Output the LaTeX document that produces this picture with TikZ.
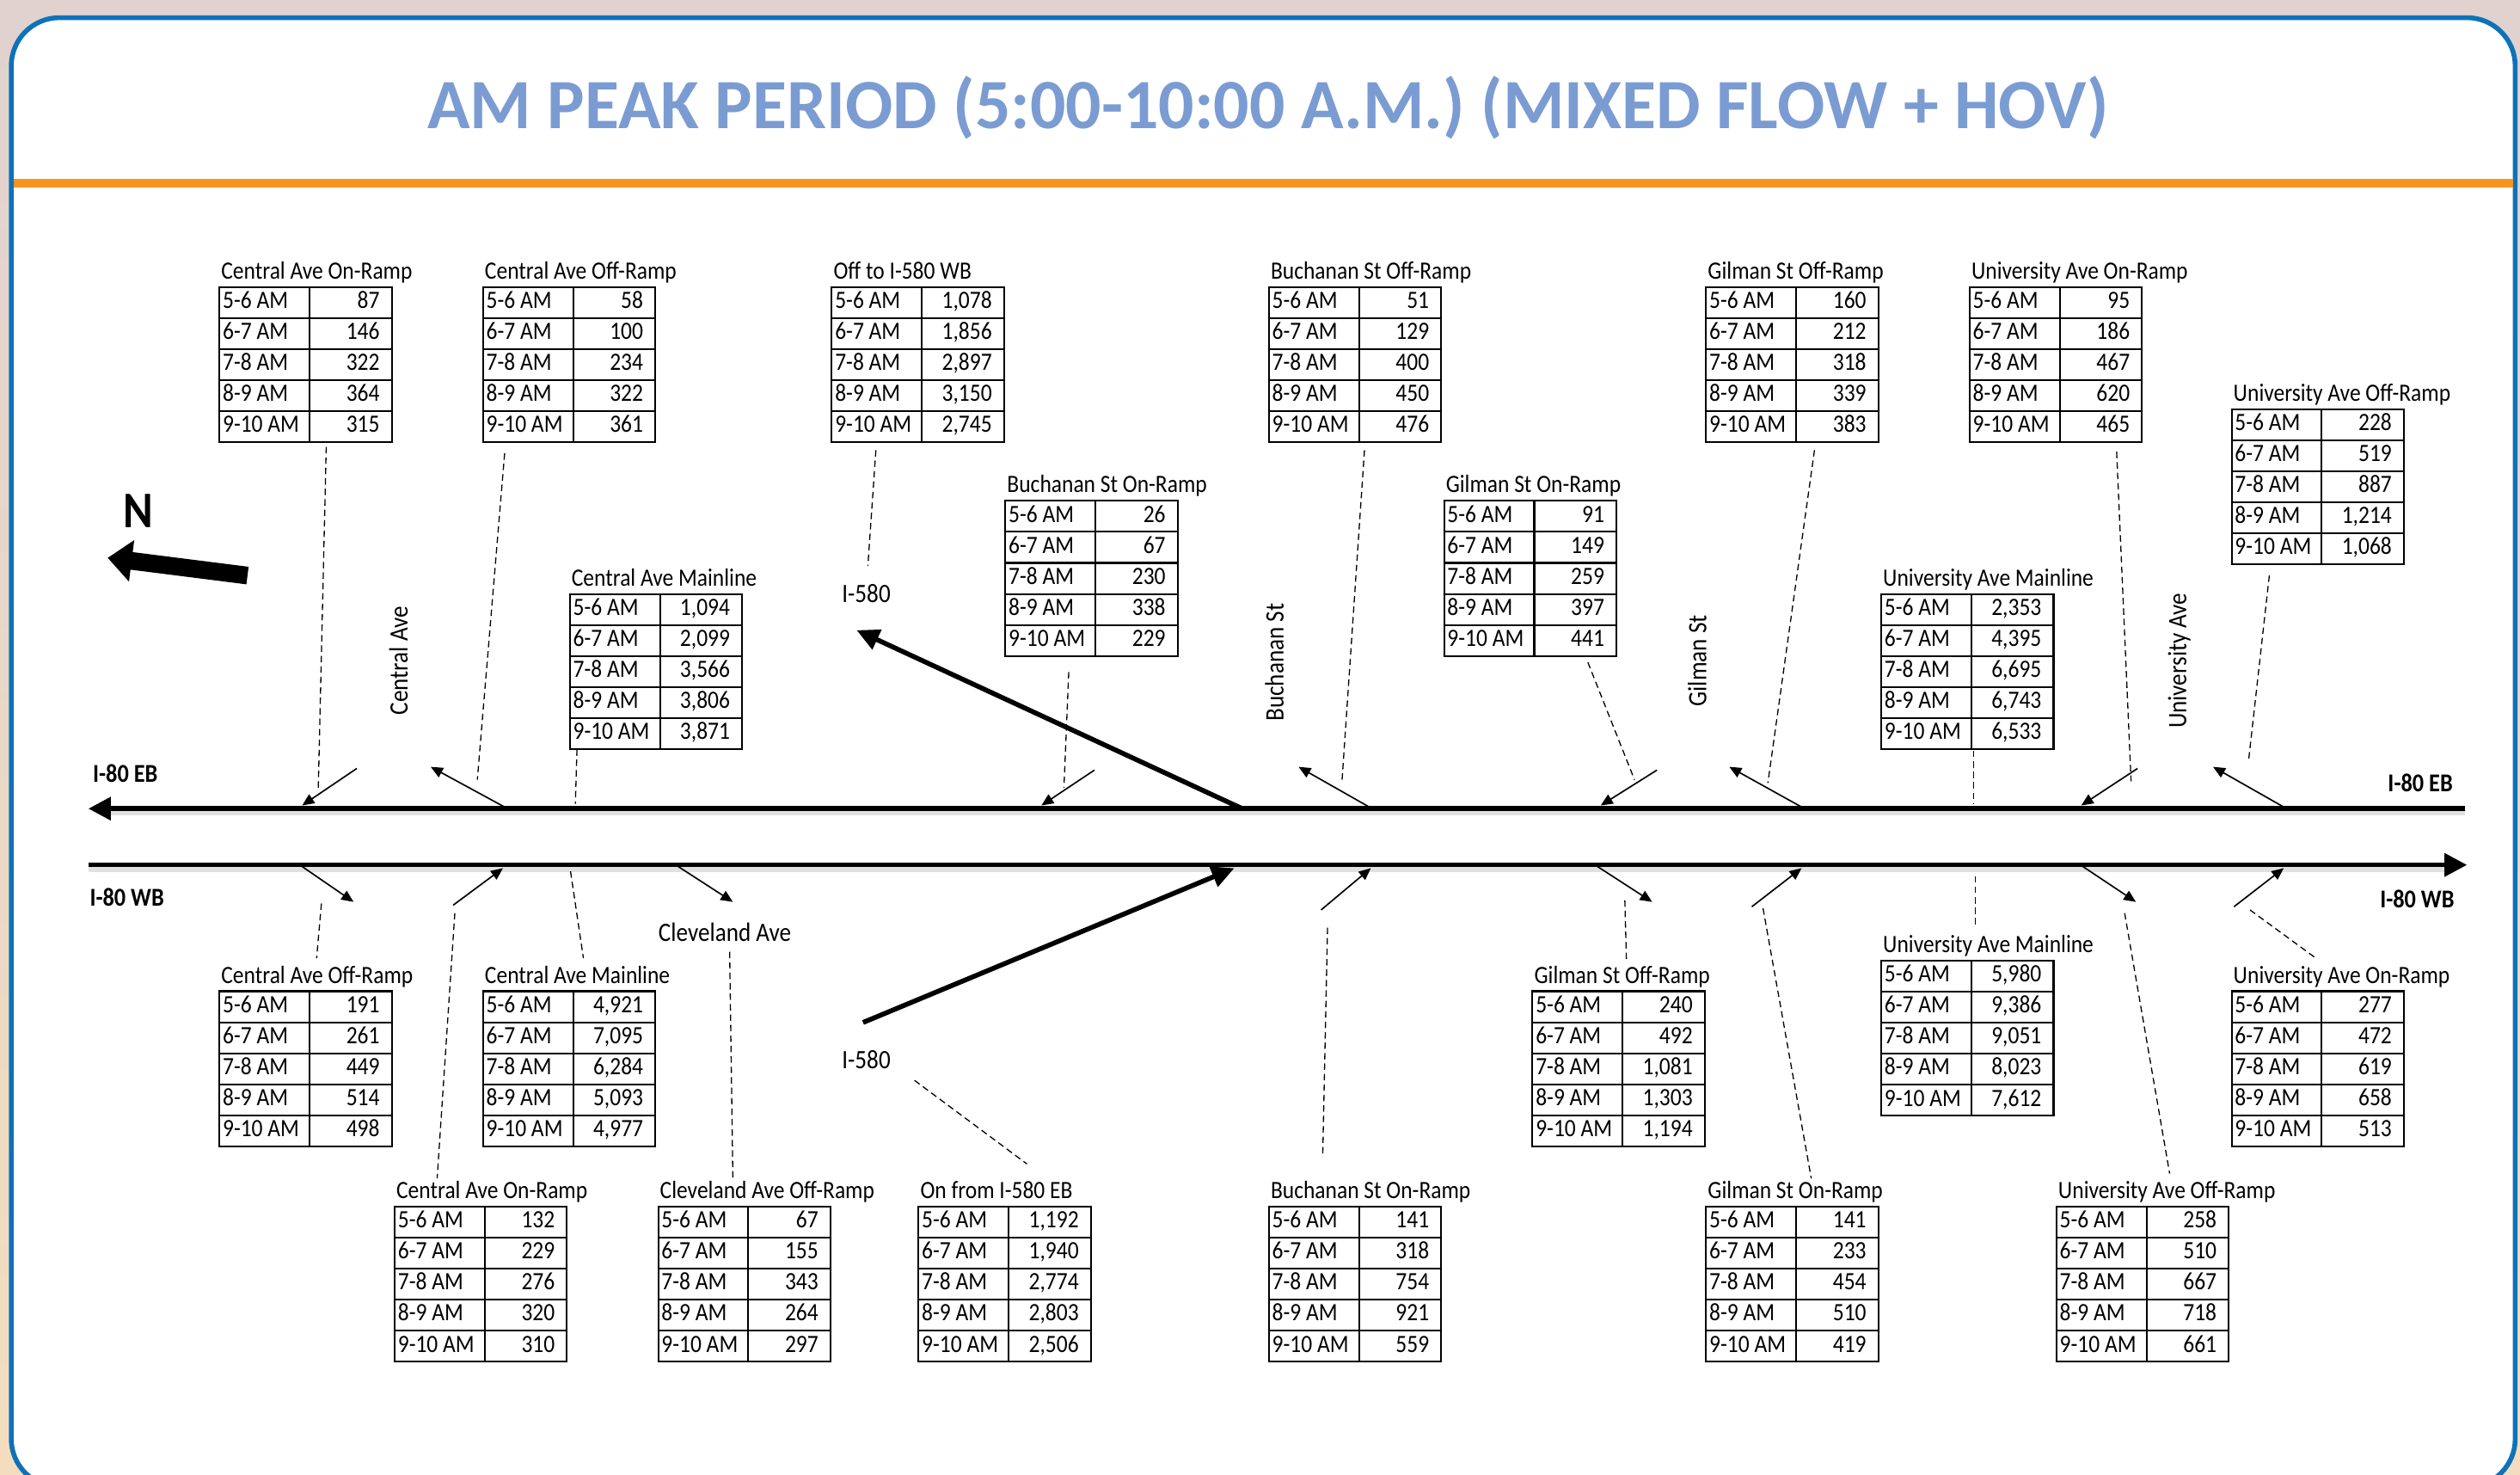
\documentclass[tikz,border=0pt]{standalone}
\usepackage{fontspec}
\setmainfont{Carlito}[FakeStretch=0.88]
\newfontfamily\titlefont{Carlito}
\usepackage{array}
\usepackage{graphicx}
\usetikzlibrary{arrows.meta}
\definecolor{bgtop}{HTML}{E0D2CE}
\definecolor{bgbot}{HTML}{F4DDBE}
\definecolor{frameblue}{HTML}{0E72B9}
\definecolor{barorange}{HTML}{F7941D}
\definecolor{titleblue}{HTML}{7B9CD2}
\setlength\arrayrulewidth{1.1pt}
\setlength\tabcolsep{0pt}
\newcommand\tb[5]{{\renewcommand\arraystretch{1.07}\begin{tabular}{|@{\hspace{1.5pt}}l@{}|>{\raggedleft\arraybackslash}p{43pt}@{\hspace{7pt}}|}\hline
\makebox[53.5pt][l]{5-6 AM}&#1\\\hline
\makebox[53.5pt][l]{6-7 AM}&#2\\\hline
\makebox[53.5pt][l]{7-8 AM}&#3\\\hline
\makebox[53.5pt][l]{8-9 AM}&#4\\\hline
\makebox[53.5pt][l]{9-10 AM}&#5\\\hline\end{tabular}}}
\newcommand\ftable[9]{\node[tbl] (#1) at (#2,#3) {\tb{#5}{#6}{#7}{#8}{#9}};\node[ttl] (#1-t) at (#1.north west) {#4};}
\begin{document}
\begin{tikzpicture}[x=1pt,y=-1pt,font=\fontsize{15.5}{17}\selectfont,
  tbl/.style={anchor=north west,inner sep=0pt,outer sep=0pt},
  ttl/.style={anchor=base west,inner sep=0pt,yshift=4.5pt,xshift=1.5pt},
  road/.style={line width=3pt},
  roadshadow/.style={line width=3.5pt,black!12},
  ramp/.style={line width=0.9pt,-{Triangle[length=7.5pt,width=6.5pt]}},
  lead/.style={line width=0.7pt,dash pattern=on 4pt off 2.5pt},
  bigarrow/.style={line width=3pt,-{Triangle[length=14pt,width=13pt]}},
  street/.style={font=\fontsize{16.5}{18}\selectfont,inner sep=0pt},
  hwy/.style={font=\bfseries\fontsize{16}{18}\selectfont,inner sep=0pt}]
\useasboundingbox (0,0) rectangle (1568,917);
\fill[top color=bgtop,bottom color=bgbot] (0,0) rectangle (1568,917);
\draw[frameblue,line width=3pt,fill=white,rounded corners=30pt] (7,11) rectangle (1565,925);
\fill[barorange] (8.5,111.5) rectangle (1563.5,116.5);
\node[text=titleblue,font=\titlefont\bfseries\fontsize{44}{44}\selectfont,anchor=base,inner sep=0pt] (title) at (789,80) {\resizebox{1046pt}{\height}{AM PEAK PERIOD (5:00-10:00 A.M.) (MIXED FLOW + HOV)}};

% tables
\ftable{uCOn}{136}{178}{Central Ave On-Ramp}{87}{146}{322}{364}{315}
\ftable{uCOff}{300}{178}{Central Ave Off-Ramp}{58}{100}{234}{322}{361}
\ftable{uFiveEighty}{517}{178}{Off to I-580 WB}{1,078}{1,856}{2,897}{3,150}{2,745}
\ftable{uBOff}{789}{178}{Buchanan St Off-Ramp}{51}{129}{400}{450}{476}
\ftable{uGOff}{1061}{178}{Gilman St Off-Ramp}{160}{212}{318}{339}{383}
\ftable{uUOn}{1225}{178}{University Ave On-Ramp}{95}{186}{467}{620}{465}
\ftable{uUOff}{1388}{254}{University Ave Off-Ramp}{228}{519}{887}{1,214}{1,068}
\ftable{uBOn}{625}{311}{Buchanan St On-Ramp}{26}{67}{230}{338}{229}
\ftable{uGOn}{898}{311}{Gilman St On-Ramp}{91}{149}{259}{397}{441}
\ftable{uCMain}{354}{369}{Central Ave Mainline}{1,094}{2,099}{3,566}{3,806}{3,871}
\ftable{uUMain}{1170}{369}{University Ave Mainline}{2,353}{4,395}{6,695}{6,743}{6,533}
\ftable{lCOff}{136}{616}{Central Ave Off-Ramp}{191}{261}{449}{514}{498}
\ftable{lCMain}{300}{616}{Central Ave Mainline}{4,921}{7,095}{6,284}{5,093}{4,977}
\ftable{lGOff}{953}{616}{Gilman St Off-Ramp}{240}{492}{1,081}{1,303}{1,194}
\ftable{lUOn}{1388}{616}{University Ave On-Ramp}{277}{472}{619}{658}{513}
\ftable{lUMain}{1170}{597}{University Ave Mainline}{5,980}{9,386}{9,051}{8,023}{7,612}
\ftable{lCOn}{245}{750}{Central Ave On-Ramp}{132}{229}{276}{320}{310}
\ftable{lClOff}{409}{750}{Cleveland Ave Off-Ramp}{67}{155}{343}{264}{297}
\ftable{lFiveEighty}{571}{750}{On from I-580 EB}{1,192}{1,940}{2,774}{2,803}{2,506}
\ftable{lBOn}{789}{750}{Buchanan St On-Ramp}{141}{318}{754}{921}{559}
\ftable{lGOn}{1061}{750}{Gilman St On-Ramp}{141}{233}{454}{510}{419}
\ftable{lUOff}{1279}{750}{University Ave Off-Ramp}{258}{510}{667}{718}{661}

% labels
\node[street,rotate=90] (sCentral) at (248,411) {Central Ave};
\node[street,rotate=90] (sBuch) at (793,412) {Buchanan St};
\node[street,rotate=90] (sGil) at (1056,411) {Gilman St};
\node[street,rotate=90] (sUniv) at (1356,411) {University Ave};
\node[street] (sClev) at (451,580) {Cleveland Ave};
\node[street] (sIup) at (539,369) {I-580};
\node[street] (sIdn) at (539,659) {I-580};
\node[hwy] (hEBl) at (78,481) {I-80 EB};
\node[hwy] (hEBr) at (1506,487) {I-80 EB};
\node[hwy] (hWBl) at (79,558) {I-80 WB};
\node[hwy] (hWBr) at (1504,559) {I-80 WB};

% north arrow
\node[font=\bfseries\fontsize{32}{32}\selectfont,inner sep=0pt] (north) at (86,318) {N};
\coordinate (nT) at (154,358);
\coordinate (nH) at (67,347);
\draw[line width=11pt,-{Triangle[length=15pt,width=25pt]}] (nT) -- (nH);

% roads
\coordinate (ebE) at (1534,503); \coordinate (ebW) at (55,503);
\coordinate (wbW) at (55,538); \coordinate (wbE) at (1535,538);
\draw[roadshadow] ([yshift=-2.5pt]ebE) -- ([yshift=-2.5pt,xshift=12pt]ebW);
\draw[roadshadow] ([yshift=-2.5pt]wbW) -- ([yshift=-2.5pt,xshift=-12pt]wbE);
\draw[road,-{Triangle[length=14pt,width=14pt]}] (ebE) -- (ebW);
\draw[road,-{Triangle[length=14pt,width=14pt]}] (wbW) -- (wbE);

% I-580 connectors
\coordinate (jEB) at (773,503); \coordinate (jUp) at (533,392);
\coordinate (jDn) at (537,636); \coordinate (jWB) at (768,540);
\draw[bigarrow] (jEB) -- (jUp);
\draw[bigarrow] (jDn) -- (jWB);

% ramps on EB
\foreach \a/\b/\c/\d [count=\i] in {222/478/188/501, 314/502/268/477, 681/479/648/501, 852/502/808/477, 1031/479/996/501, 1121/502/1076/477, 1330/478/1295/501, 1421/502/1377/477}
 { \coordinate (re\i a) at (\a,\b); \coordinate (re\i b) at (\c,\d); \draw[ramp] (re\i a) -- (re\i b); }
% ramps on WB
\foreach \a/\b/\c/\d [count=\i] in {188/539/220/561, 282/563/313/540, 422/539/456/561, 822/566/853/540, 994/539/1028/561, 1090/564/1121/540, 1296/539/1329/561, 1390/564/1421/540}
 { \coordinate (rw\i a) at (\a,\b); \coordinate (rw\i b) at (\c,\d); \draw[ramp] (rw\i a) -- (rw\i b); }

% dashed leaders
\foreach \a/\b/\c/\d [count=\i] in {203/278/198/492, 314/282/297/485, 545/280/540/352, 359/466/358/500, 665/418/662/490, 849/280/835/486, 988/412/1017/485, 1129/280/1100/487, 1317/281/1326/486, 1228/467/1228/500, 1412/358/1399/474, 200/562/197/596, 283/568/272/733, 355/542/363/596, 454/592/456/733, 569/672/639/724, 826/577/823/720, 1011/560/1012/598, 1097/565/1127/733, 1229/545/1229/576, 1322/568/1350/730, 1400/566/1441/596}
 { \coordinate (ld\i a) at (\a,\b); \coordinate (ld\i b) at (\c,\d); \draw[lead] (ld\i a) -- (ld\i b); }
\end{tikzpicture}
\end{document}
